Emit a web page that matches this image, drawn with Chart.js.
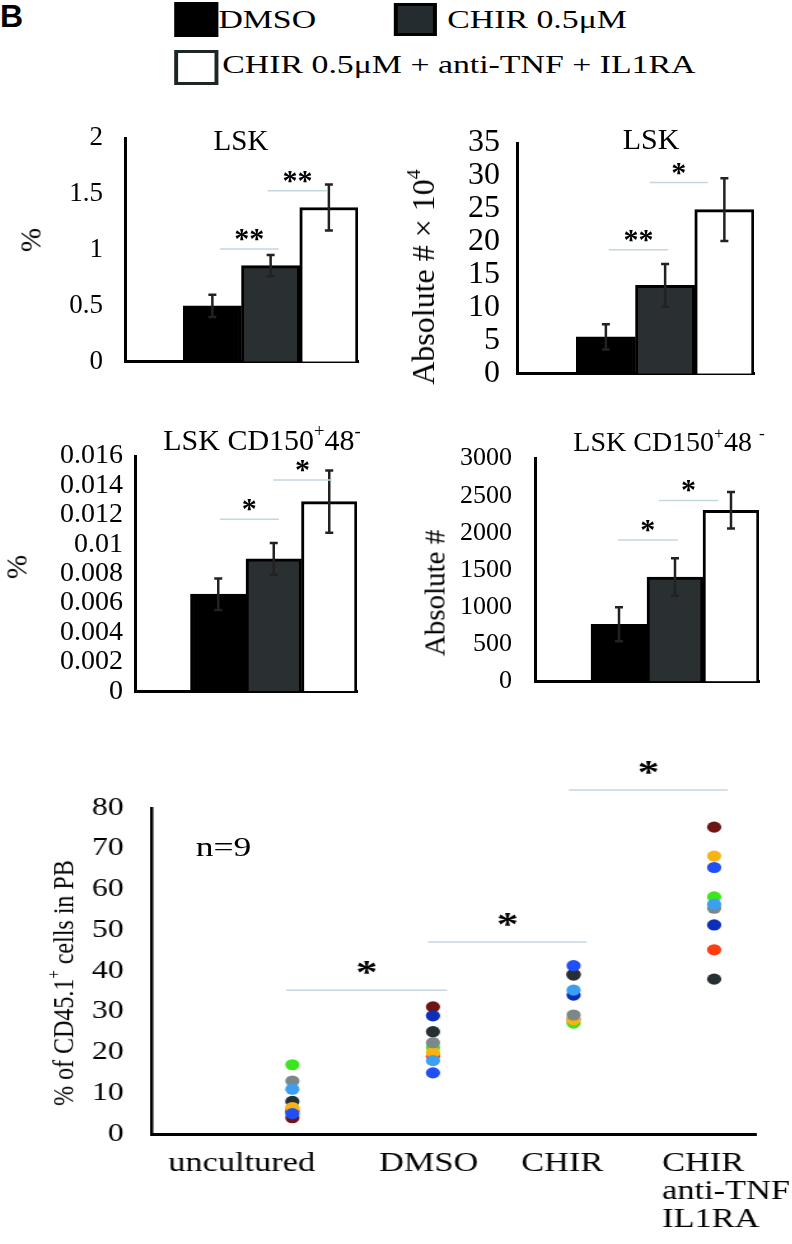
<!DOCTYPE html>
<html>
<head>
<meta charset="utf-8">
<script src="https://cdn.jsdelivr.net/npm/chart.js@4.4.0/dist/chart.umd.min.js"></script>
<style>
  body { margin: 0; background: #fff; font-family: "Liberation Serif", "Times New Roman", serif; color: #000; }
  #page { position: relative; width: 792px; height: 1244px; overflow: hidden; }
  .box { position: absolute; }
  .txt { position: absolute; white-space: nowrap; line-height: 1; }
  .ctr { position: absolute; white-space: nowrap; line-height: 1; transform: translate(-50%, -50%); }
  .rot { position: absolute; white-space: nowrap; line-height: 1; transform: translate(-50%, -50%) rotate(-90deg); }
  sup { font-size: 0.62em; line-height: 0; vertical-align: 0.7em; }
  .sq { position: absolute; box-sizing: border-box; }
  .stretch { position: absolute; transform-origin: 0 0; }
</style>
</head>
<body>
<div id="page">
  <div class="txt" style="left:0;top:-2px;font:bold 32px 'Liberation Sans',sans-serif;">B</div>

  <div class="stretch" style="left:0;top:0;width:609px;height:95px;transform:scaleX(1.3);">
    <div class="sq" style="left:134px;top:2px;width:34px;height:35px;background:#000;"></div>
    <div class="txt" style="left:168px;top:7px;font-size:26px;">DMSO</div>
    <div class="sq" style="left:303px;top:3px;width:33px;height:33px;background:#242c2f;border:3px solid #000;"></div>
    <div class="txt" style="left:344px;top:7px;font-size:26px;">CHIR 0.5μM</div>
    <div class="sq" style="left:134px;top:50px;width:34px;height:35px;background:#fff;border:3px solid #1c2626;"></div>
    <div class="txt" style="left:171px;top:52px;font-size:26px;">CHIR 0.5μM + anti-TNF + IL1RA</div>
  </div>

  <div class="box" style="left:0;top:100px;width:380px;height:300px;"><canvas id="lskPct"></canvas></div>
  <div class="box" style="left:400px;top:100px;width:380px;height:310px;"><canvas id="lskAbs"></canvas></div>
  <div class="box" style="left:0;top:420px;width:380px;height:300px;"><canvas id="hscPct"></canvas></div>
  <div class="box" style="left:400px;top:420px;width:380px;height:300px;"><canvas id="hscAbs"></canvas></div>

  <div class="ctr" style="left:241px;top:140px;font-size:29px;">LSK</div>
  <div class="ctr" style="left:651px;top:139px;font-size:30px;">LSK</div>
  <div class="ctr" style="left:262px;top:440px;font-size:30px;">LSK CD150<sup>+</sup>48<sup>-</sup></div>
  <div class="ctr" style="left:669px;top:442px;font-size:28px;">LSK CD150<sup>+</sup>48 <sup>-</sup></div>

  <div class="rot" style="left:31px;top:240px;font-size:29px;">%</div>
  <div class="rot" style="left:423px;top:277px;font-size:32px;">Absolute # × 10<sup>4</sup></div>
  <div class="rot" style="left:17px;top:567px;font-size:29px;">%</div>
  <div class="rot" style="left:435px;top:593px;font-size:29px;">Absolute #</div>

  <div class="stretch" style="left:0;top:740px;width:623.6px;height:504px;transform:scaleX(1.27);">
    <canvas id="engraft"></canvas>
    <div class="ctr" style="left:176px;top:107px;font-size:28px;">n=9</div>
    <div class="rot" style="left:50px;top:243px;font-size:24px;">% of CD45.1<sup>+</sup> cells in PB</div>
  </div>
</div>

<script>
// bar panels: first slot is left empty like in the figure
const groups = ["", "DMSO", "CHIR 0.5μM", "CHIR 0.5μM + anti-TNF + IL1RA"];
const barColors = [null, "#000000", "#2a2f32", "#ffffff"];

const lskPct = [null, 0.5, 0.86, 1.38];
const lskPctErr = [null, 0.1, 0.095, 0.205];
const lskAbs = [null, 5.6, 13.4, 24.9];
const lskAbsErr = [null, 1.9, 3.25, 4.75];
const hscPct = [null, 0.0066, 0.009, 0.0129];
const hscPctErr = [null, 0.00107, 0.00108, 0.00212];
const hscAbs = [null, 770, 1405, 2305];
const hscAbsErr = [null, 230, 253, 245];

// significance bars: [from, to, level, mark]
const lskPctSig = [[1.13, 2.14, 1.01, "**"], [1.95, 2.97, 1.53, "**"]];
const lskAbsSig = [[1.05, 2.05, 18.8, "**"], [1.74, 2.72, 29.0, "*"]];
const hscPctSig = [[1.03, 2.09, 0.01169, "*"], [1.99, 3.05, 0.01437, "*"]];
const hscAbsSig = [[0.98, 2.05, 1903, "*"], [1.71, 2.77, 2437, "*"]];

// engraftment scatter, one colour per recipient mouse
const cohorts = ["uncultured", "DMSO", "CHIR", "CHIR anti-TNF IL1RA"];
const cohortLines = [["uncultured"], ["DMSO"], ["CHIR"], ["CHIR", "anti-TNF", "IL1RA"]];
const cohortLabelPos = [0.64, 1.97, 2.92, 3.63];
const cohortAlign = ["center", "center", "center", "left"];
const mouseColors = ["#3d9ff2", "#1f4ff5", "#7c8789", "#f6b414", "#ff3c0f", "#3ce61e", "#0b2fb8", "#263032", "#6e1414"];
const uncultured = [11, 5, 13, 6.5, 6, 17, 5.5, 8, 4];
const dmso = [18, 15, 22.4, 20, 19.1, 21.2, 29, 25.1, 31.2];
const chir = [35.3, 41.3, 29.2, 28, 28.1, 27.2, 34.1, 39.0, 39.2];
const chirAnti = [56.4, 65.4, 55.4, 68.2, 45.2, 58.2, 51.3, 38.0, 75.3];
const cohortValues = [uncultured, dmso, chir, chirAnti];
const engraftSig = [[0.956, 2.1, 35.3, "*"], [1.965, 3.095, 47.1, "*"], [2.967, 4.097, 84.4, "*"]];

Chart.defaults.font.family = '"Liberation Serif", "Times New Roman", serif';
Chart.defaults.color = "#000";
Chart.defaults.animation = false;
Chart.defaults.plugins.legend.display = false;
Chart.defaults.plugins.tooltip.enabled = false;

const fmt = (v) => String(parseFloat(Number(v).toFixed(6)));

const drawSig = (ctx, x, y, sig, o) => {
  sig.forEach(([a, b, lvl, mark]) => {
    const x1 = x.getPixelForValue(a);
    const x2 = x.getPixelForValue(b);
    const py = y.getPixelForValue(lvl);
    ctx.strokeStyle = "#c3d7dc";
    ctx.lineWidth = 1.5;
    ctx.beginPath();
    ctx.moveTo(x1, py);
    ctx.lineTo(x2, py);
    ctx.stroke();
    ctx.fillStyle = "#000";
    ctx.font = "bold " + o.starSize + 'px "Liberation Serif"';
    ctx.textAlign = "center";
    ctx.textBaseline = "alphabetic";
    ctx.fillText(mark, (x1 + x2) / 2, py - o.starRise + 0.465 * o.starSize);
  });
};

const annot = {
  id: "annot",
  afterDatasetsDraw(chart, args, o) {
    const { ctx, scales: { x, y } } = chart;
    const meta = chart.getDatasetMeta(0);
    const values = chart.data.datasets[0].data;
    ctx.save();
    o.errors.forEach((e, i) => {
      if (e == null || values[i] == null) return;
      const px = meta.data[i].x;
      const top = y.getPixelForValue(values[i] + e);
      const bot = y.getPixelForValue(values[i] - e);
      ctx.strokeStyle = "#222";
      ctx.lineWidth = 2.5;
      ctx.beginPath();
      ctx.moveTo(px, top);
      ctx.lineTo(px, bot);
      ctx.moveTo(px - 4, top);
      ctx.lineTo(px + 4, top);
      ctx.moveTo(px - 4, bot);
      ctx.lineTo(px + 4, bot);
      ctx.stroke();
    });
    drawSig(ctx, x, y, o.sig, o);
    ctx.restore();
  },
};

const makeBar = (id, values, errors, sig, opt) =>
  new Chart(document.getElementById(id), {
    type: "bar",
    data: {
      labels: groups,
      datasets: [{
        data: values,
        backgroundColor: barColors,
        borderColor: "#000",
        borderWidth: 3,
        barPercentage: 1,
        categoryPercentage: 1,
      }],
    },
    options: {
      responsive: true,
      maintainAspectRatio: false,
      layout: { padding: opt.pad },
      scales: {
        x: {
          grid: { display: false, drawTicks: false },
          ticks: { display: false },
          border: { color: "#000", width: 3 },
          afterFit: (s) => { s.height = 0; },
        },
        y: {
          min: 0,
          max: opt.max,
          grid: { display: false, drawTicks: false },
          border: { color: "#000", width: 3 },
          ticks: { stepSize: opt.step, padding: opt.tickPad, autoSkip: false, font: { size: opt.tickSize }, callback: fmt },
          afterFit: (s) => { s.width = opt.yWidth; },
        },
      },
      plugins: { annot: { errors, sig, starSize: 30, starRise: 15 } },
    },
    plugins: [annot],
  });

makeBar("lskPct", lskPct, lskPctErr, lskPctSig,
  { max: 2, step: 0.5, yWidth: 125, tickPad: 22, tickSize: 27, pad: { top: 26, right: 22, bottom: 18, left: 0 } });
makeBar("lskAbs", lskAbs, lskAbsErr, lskAbsSig,
  { max: 35, step: 5, yWidth: 117, tickPad: 17, tickSize: 32, pad: { top: 43, right: 26, bottom: 23, left: 0 } });
makeBar("hscPct", hscPct, hscPctErr, hscPctSig,
  { max: 0.016, step: 0.002, yWidth: 135, tickPad: 12, tickSize: 28, pad: { top: 36, right: 23, bottom: 19, left: 0 } });
makeBar("hscAbs", hscAbs, hscAbsErr, hscAbsSig,
  { max: 3000, step: 500, yWidth: 135, tickPad: 23, tickSize: 26, pad: { top: 33, right: 21, bottom: 20, left: 0 } });

const scatAnnot = {
  id: "scatAnnot",
  afterDraw(chart) {
    const { ctx, scales: { x, y } } = chart;
    ctx.save();
    drawSig(ctx, x, y, engraftSig, { starSize: 34, starRise: 23 });
    ctx.font = '27px "Liberation Serif"';
    ctx.fillStyle = "#000";
    ctx.textBaseline = "middle";
    cohortLines.forEach((lines, i) => {
      ctx.textAlign = cohortAlign[i];
      const px = x.getPixelForValue(cohortLabelPos[i]);
      lines.forEach((t, k) => ctx.fillText(t, px, chart.chartArea.bottom + 30 + k * 28));
    });
    ctx.restore();
  },
};

new Chart(document.getElementById("engraft"), {
  type: "scatter",
  data: {
    datasets: mouseColors.map((c, m) => ({
      label: "Mouse " + (m + 1),
      data: cohortValues.map((vals, gi) => ({ x: gi + 1, y: vals[m] })),
      backgroundColor: c,
      borderWidth: 0,
      pointRadius: 5.6,
    })),
  },
  options: {
    responsive: true,
    maintainAspectRatio: false,
    layout: { padding: { top: 68, right: 29, bottom: 110, left: 0 } },
    scales: {
      x: {
        type: "linear",
        min: 0,
        max: 4.3,
        grid: { display: false, drawTicks: false },
        ticks: { display: false },
        border: { color: "#000", width: 3 },
        afterFit: (s) => { s.height = 0; },
      },
      y: {
        min: 0,
        max: 80,
        grid: { display: false, drawTicks: false },
        border: { color: "#000", width: 2.5 },
        ticks: { stepSize: 10, padding: 22, autoSkip: false, font: { size: 25 } },
        afterFit: (s) => { s.width = 119.3; },
      },
    },
  },
  plugins: [scatAnnot],
});
</script>
</body>
</html>
